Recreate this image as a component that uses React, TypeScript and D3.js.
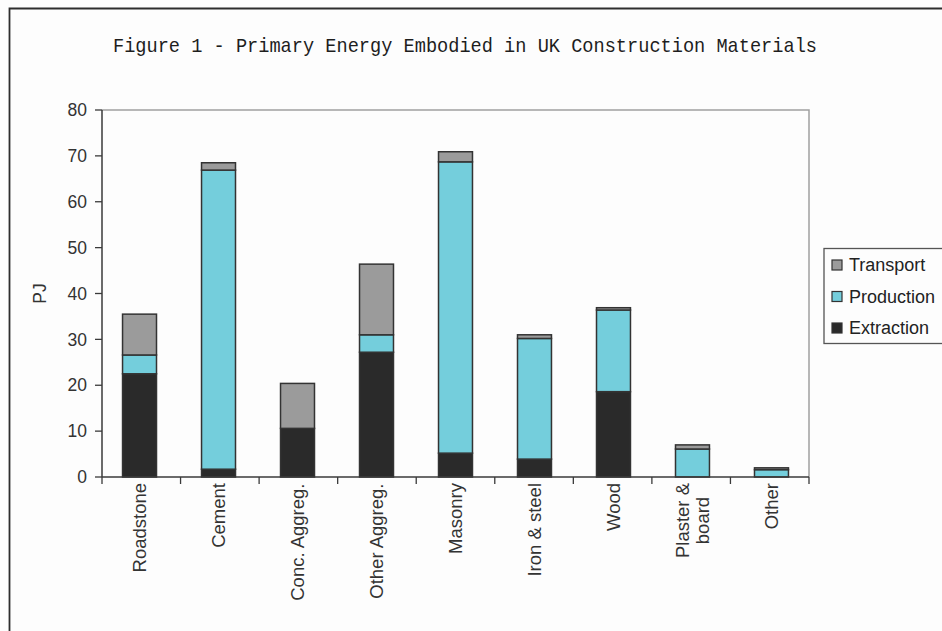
import React from "react";
import * as d3 from "d3";

// Primary energy embodied in UK construction materials (PJ)
const categories = ["Roadstone", "Cement", "Conc. Aggreg.", "Other Aggreg.", "Masonry", "Iron & steel", "Wood", "Plaster & board", "Other"];
const categoryLines = [["Roadstone"], ["Cement"], ["Conc. Aggreg."], ["Other Aggreg."], ["Masonry"], ["Iron & steel"], ["Wood"], ["Plaster &", "board"], ["Other"]];
const extraction = [22.5, 1.7, 10.6, 27.2, 5.2, 3.9, 18.6, 0, 0];
const production = [4.1, 65.2, 0, 3.8, 63.5, 26.3, 17.8, 6.1, 1.6];
const transport = [8.9, 1.6, 9.8, 15.4, 2.2, 0.8, 0.5, 0.9, 0.4];
const seriesNames = ["Extraction", "Production", "Transport"];
const yTicks = [0, 10, 20, 30, 40, 50, 60, 70, 80];
const title = "Figure 1 - Primary Energy Embodied in UK Construction Materials";

const W = 942;
const H = 631;
const plot = { left: 102, right: 809, top: 110, bottom: 477 };
const colors: Record<string, string> = { Extraction: "#2a2a2a", Production: "#74cedc", Transport: "#9b9b9b" };
const FONT = "'Liberation Sans', Arial, sans-serif";

function measure(text: string, size: number): number {
  const c = document.createElement("canvas").getContext("2d");
  if (!c) return text.length * size * 0.55;
  c.font = `${size}px ${FONT}`;
  return c.measureText(text).width;
}

export default function App() {
  const rows = categories.map((c, i) => ({
    category: c,
    Extraction: extraction[i],
    Production: production[i],
    Transport: transport[i],
  }));
  const stacked = d3.stack<any>().keys(seriesNames)(rows);

  const x = d3.scaleBand<string>().domain(categories).range([plot.left, plot.right]).paddingInner(0.57).paddingOuter(0.26);
  const y = d3.scaleLinear().domain([0, 80]).range([plot.bottom, plot.top]);
  const step = x.step();
  const boundaries = d3.range(categories.length + 1).map((i) => plot.left + i * (plot.right - plot.left) / categories.length);

  const labelSize = 18.5;
  const tickSize = 17.5;
  const legendItems = [...seriesNames].reverse();

  return (
    <svg width={W} height={H} style={{ position: "absolute", left: 0, top: 0, background: "#fdfdfd" }}>
      <rect x={0} y={0} width={W} height={H} fill="#fdfdfd" />
      {/* outer chart frame */}
      <path d={`M9.5,${H + 5} V8.5 H${W + 5}`} fill="none" stroke="#2e2e2e" strokeWidth={1.8} />

      <text x={(113 + 817) / 2} y={52} textAnchor="middle" fontFamily="'Liberation Mono', 'Courier New', monospace" fontSize={21} fill="#1e1e1e" textLength={704} lengthAdjust="spacingAndGlyphs">
        {title}
      </text>

      {/* plot area border */}
      <path d={`M${plot.left},${plot.top} H${plot.right} V${plot.bottom}`} fill="none" stroke="#a0a0a0" strokeWidth={1.5} />

      {/* bars */}
      {stacked.map((layer) => (
        <g key={layer.key}>
          {layer.map((d, i) => {
            const h = y(d[0]) - y(d[1]);
            if (h <= 0) return null;
            return (
              <rect key={i} x={x(categories[i])} y={y(d[1])} width={x.bandwidth()} height={h} fill={colors[layer.key]} stroke="#333" strokeWidth={1.5} />
            );
          })}
        </g>
      ))}

      {/* y axis */}
      <line x1={plot.left} x2={plot.left} y1={plot.top} y2={plot.bottom} stroke="#3a3a3a" strokeWidth={1.5} />
      {yTicks.map((t) => (
        <g key={t}>
          <line x1={plot.left - 7} x2={plot.left} y1={y(t)} y2={y(t)} stroke="#3a3a3a" strokeWidth={1.3} />
          <text x={87} y={y(t)} dy="0.35em" textAnchor="end" fontFamily={FONT} fontSize={tickSize} fill="#333">{t}</text>
        </g>
      ))}
      <text transform={`translate(40,${(plot.top + plot.bottom) / 2}) rotate(-90)`} textAnchor="middle" dy="0.35em" fontFamily={FONT} fontSize={tickSize} fill="#333">PJ</text>

      {/* x axis */}
      <line x1={plot.left} x2={plot.right} y1={plot.bottom} y2={plot.bottom} stroke="#3a3a3a" strokeWidth={1.5} />
      {boundaries.map((b, i) => (
        <line key={i} x1={b} x2={b} y1={plot.bottom} y2={plot.bottom + 7} stroke="#3a3a3a" strokeWidth={1.3} />
      ))}
      {categoryLines.map((lines, i) => {
        const cx = (x(categories[i]) ?? 0) + x.bandwidth() / 2;
        const longest = Math.max(...lines.map((l) => measure(l, labelSize)));
        const cy = plot.bottom + 6 + longest / 2;
        const lh = labelSize * 1.05;
        return lines.map((line, j) => {
          const lx = cx + (j - (lines.length - 1) / 2) * lh;
          return (
            <text key={`${i}-${j}`} transform={`translate(${lx},${cy}) rotate(-90)`} textAnchor="middle" dy="0.35em" fontFamily={FONT} fontSize={labelSize} fill="#333">
              {line}
            </text>
          );
        });
      })}

      {/* legend */}
      <rect x={824} y={248.5} width={130} height={95} fill="#fdfdfd" stroke="#555" strokeWidth={1.3} />
      {legendItems.map((name, i) => {
        const cy = 265 + i * 31.5;
        return (
          <g key={name}>
            <rect x={832} y={cy - 5} width={10} height={10} fill={colors[name]} stroke="#333" strokeWidth={1.2} />
            <text x={849} y={cy} dy="0.35em" fontFamily={FONT} fontSize={18} fill="#222">{name}</text>
          </g>
        );
      })}
    </svg>
  );
}
